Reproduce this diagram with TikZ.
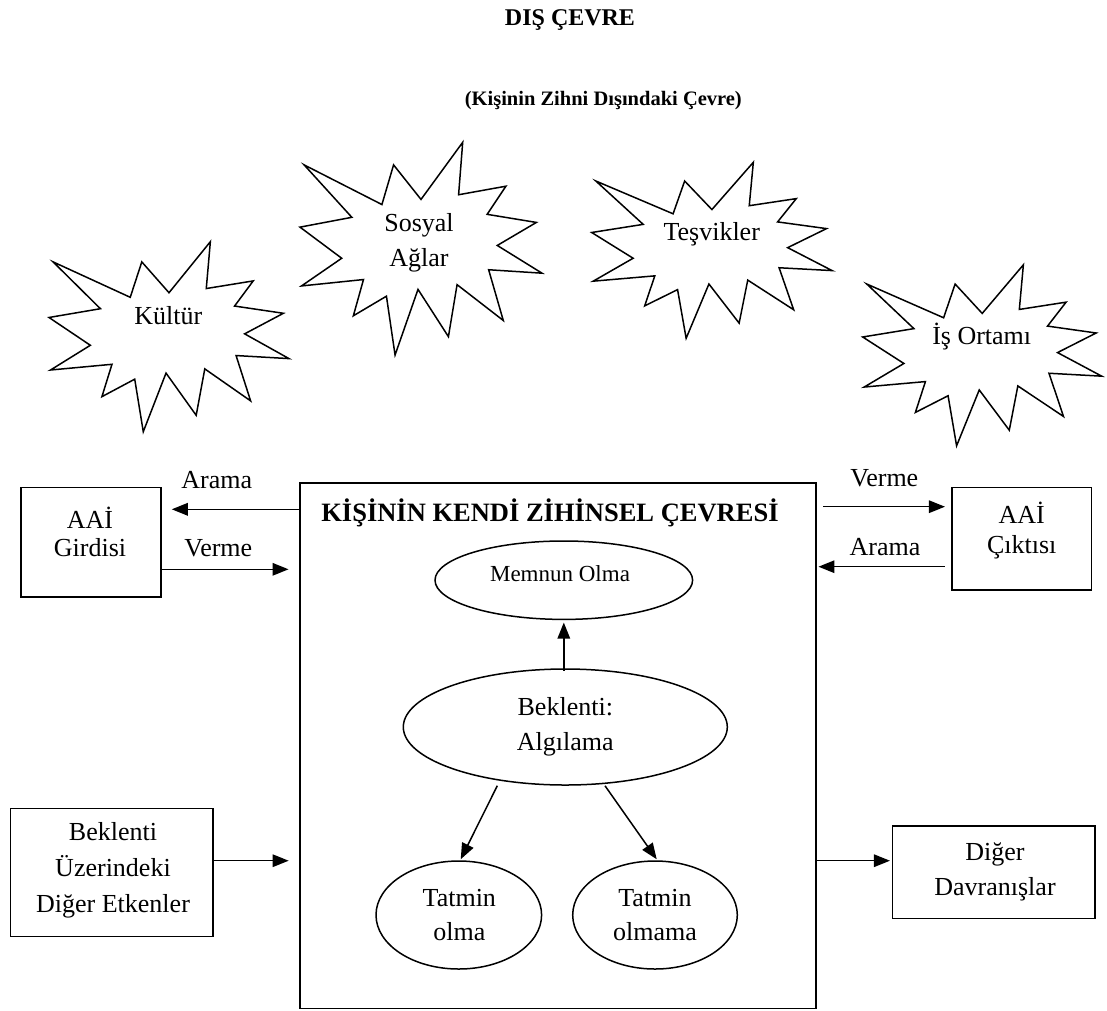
\documentclass[tikz,border=0pt]{standalone}
\usepackage{fontspec}
\setmainfont{Liberation Serif}
\usetikzlibrary{arrows.meta,shapes.geometric}

% multi-line text whose baseline is the baseline of its first line
\newcommand\stk[1]{\begin{tabular}[t]{@{}c@{}}#1\end{tabular}}

% twelve-pointed explosion outline fitted into the box (x0,y0) of size w x h
\newcommand\burst[4]{%
  \begin{scope}[shift={(#1,#2)}, xscale=#3/216, yscale=#4/216]
    \draw[burstline] (108,58) -- (145.22,0) -- (141.55,53.25) -- (183.80,44.57)
      -- (167.02,73.15) -- (210.97,81.37) -- (176.07,104.75) -- (216,132.90)
      -- (168.37,129.42) -- (181.45,180.95) -- (140.20,144.57) -- (132.47,197.37)
      -- (105.32,149.35) -- (84.85,216) -- (77.15,156.27) -- (47.62,176.17)
      -- (56.67,139.37) -- (1.35,145.87) -- (37.22,117.75) -- (0,86.15)
      -- (46.27,76.17) -- (3.70,22.95) -- (73.12,63.20) -- (83.52,22.95) -- cycle;
  \end{scope}}

\begin{document}
\begin{tikzpicture}[x=1pt, y=-1pt, line width=1.5pt,
  burstline/.style={line width=1.5pt, line join=miter},
  box/.style={draw, rectangle, inner sep=0pt},
  oval/.style={draw, ellipse, inner sep=0pt},
  txt/.style={inner sep=0pt, anchor=base, font=\fontsize{26}{30}\selectfont},
  head/.style={inner sep=0pt, anchor=base},
  arr/.style={-{Triangle[length=16pt,width=12.5pt]}, line width=1.5pt}]

\fill[white] (0,0) rectangle (1107,1010);
\useasboundingbox (0,0) rectangle (1107,1010);

% headings
\node[head, font=\bfseries\fontsize{24}{30}\selectfont] (dis) at (570,25) {DIŞ ÇEVRE};
\node[head, font=\bfseries\fontsize{20.5}{24}\selectfont] (alt) at (603.3,105) {(Kişinin Zihni Dışındaki Çevre)};

% environment factors
\burst{49}{241.7}{240}{190}
\burst{300}{142.3}{242}{212.7}
\burst{591.7}{162.3}{240.4}{176}
\burst{862.7}{264.8}{239}{181}
\node[txt] (kultur) at (168.3,324.3) {Kültür};
\node[txt, font=\fontsize{26}{35}\selectfont] (sosyal) at (419,231.7) {\stk{Sosyal\\Ağlar}};
\node[txt] (tesvik) at (711.7,240.7) {Teşvikler};
\node[txt] (isort) at (981.7,344) {İş Ortamı};

% outer boxes
\node[box, minimum width=140pt, minimum height=109.3pt] (girdi) at (91,542.35) {};
\node[box, minimum width=139.7pt, minimum height=102.3pt] (cikti) at (1021.85,538.85) {};
\node[box, minimum width=202.4pt, minimum height=128.4pt] (bekl) at (111.8,872.5) {};
\node[box, minimum width=202.3pt, minimum height=92.3pt] (diger) at (993.85,872.15) {};
\node[txt, font=\fontsize{26}{28.5}\selectfont] (girdiT) at (90,528.3) {\stk{AAİ\\Girdisi}};
\node[txt, font=\fontsize{26}{30}\selectfont] (ciktiT) at (1021.7,523.3) {\stk{AAİ\\Çıktısı}};
\node[txt, font=\fontsize{26}{36}\selectfont] (beklT) at (113,840) {\stk{Beklenti\\Üzerindeki\\Diğer Etkenler}};
\node[txt, font=\fontsize{26}{35}\selectfont] (digerT) at (995,860) {\stk{Diğer\\Davranışlar}};

% the person's own mental environment
\node[box, minimum width=516pt, minimum height=525.5pt] (kisi) at (558,745.75) {};
\node[head, font=\bfseries\fontsize{26.5}{30}\selectfont] (kisiT) at (550,521.7) {KİŞİNİN KENDİ ZİHİNSEL ÇEVRESİ};

\node[oval, minimum width=257.6pt, minimum height=78.4pt] (mem) at (563.8,580.2) {};
\node[oval, minimum width=324pt, minimum height=116pt] (bek) at (565.3,727) {};
\node[oval, minimum width=165.6pt, minimum height=108pt] (tol) at (458.8,915) {};
\node[oval, minimum width=164.6pt, minimum height=108pt] (tolm) at (655,915) {};
\node[txt, font=\fontsize{23}{28}\selectfont] (memT) at (560,581.7) {Memnun Olma};
\node[txt, font=\fontsize{26}{34.3}\selectfont] (bekT) at (565.3,715.7) {\stk{Beklenti:\\Algılama}};
\node[txt, font=\fontsize{26}{34}\selectfont] (tolT) at (459.3,906.7) {\stk{Tatmin\\olma}};
\node[txt, font=\fontsize{26}{34}\selectfont] (tolmT) at (655,906.7) {\stk{Tatmin\\olmama}};

% flow labels
\node[txt] (aramaL) at (216.7,488.3) {Arama};
\node[txt] (vermeL) at (218.3,556.7) {Verme};
\node[txt] (vermeR) at (884.3,486.7) {Verme};
\node[txt] (aramaR) at (885,555) {Arama};

% connectors
\draw[arr, shorten >=10pt] (kisi.west |- 0,509.3) -- (girdi.east |- 0,509.3);
\draw[arr, shorten >=10.7pt] (girdi.east |- 0,569.3) -- (kisi.west |- 0,569.3);
\draw[arr, shorten <=6.7pt, shorten >=6.3pt] (kisi.east |- 0,506.7) -- (cikti.west |- 0,506.7);
\draw[arr, shorten <=6.3pt, shorten >=1.7pt] (cikti.west |- 0,566.7) -- (kisi.east |- 0,566.7);
\draw[arr, shorten >=10.6pt] (bekl.east |- 0,860.7) -- (kisi.west |- 0,860.7);
\draw[arr, shorten >=2pt] (kisi.east |- 0,860.7) -- (diger.west |- 0,860.7);
\draw[arr, shorten <=-2.7pt, shorten >=2.4pt] (mem.south |- bek.north) -- (mem.south);
\draw[arr] ([xshift=-68pt]bek.south) -- ([xshift=1.9pt, yshift=1pt]tol.north);
\draw[arr] ([xshift=39.7pt]bek.south) -- ([xshift=1.7pt, yshift=1pt]tolm.north);

\end{tikzpicture}
\end{document}
